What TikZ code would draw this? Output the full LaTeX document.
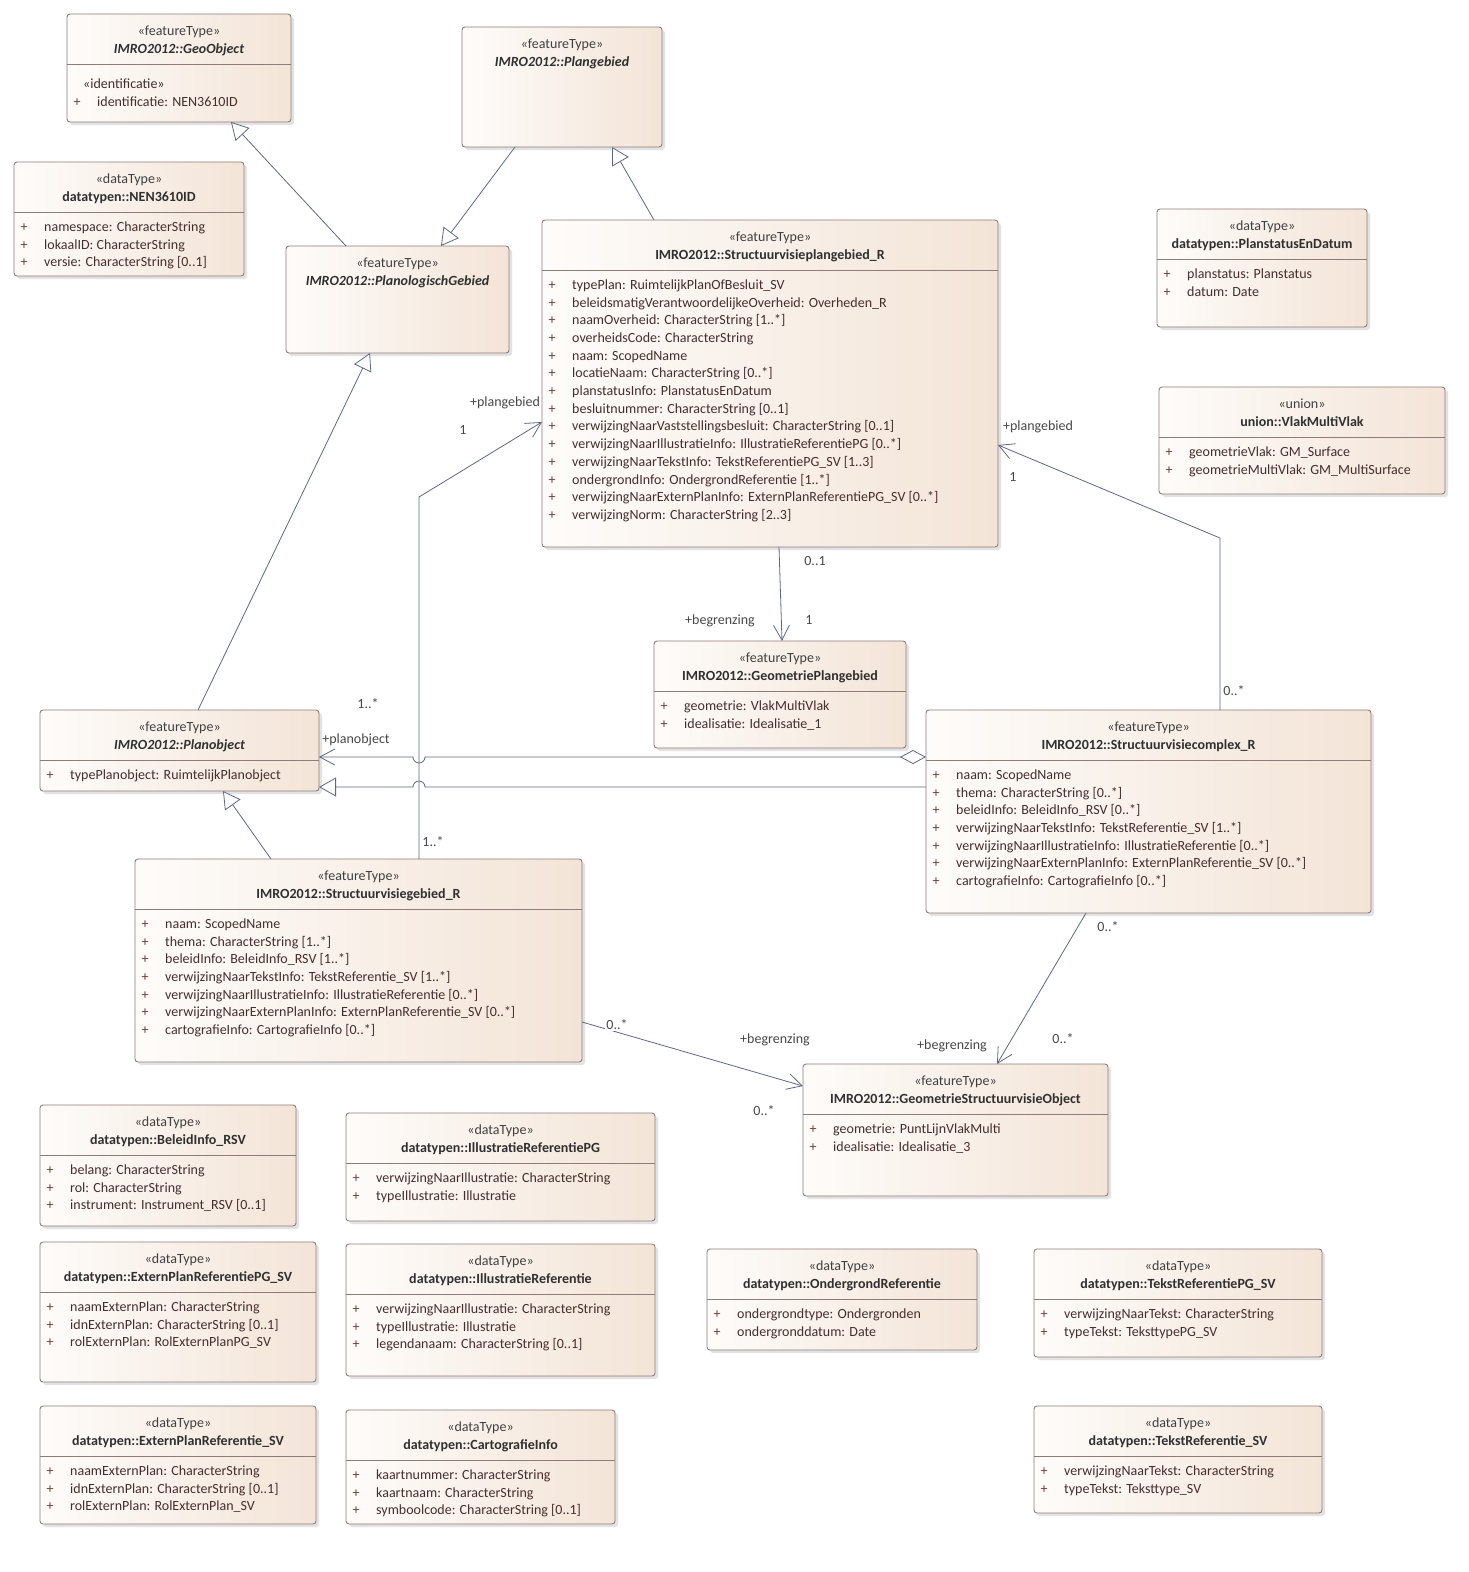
\documentclass[tikz,border=0pt]{standalone}
\usepackage{fontspec}
\setmainfont{Carlito}
\usetikzlibrary{arrows.meta,calc,shadows}
\definecolor{boxL}{HTML}{FEFCFA}
\definecolor{boxR}{HTML}{F3E4D7}
\definecolor{boxborder}{HTML}{8F7C78}
\definecolor{linecol}{HTML}{5D6888}
\definecolor{stcol}{HTML}{404040}
\definecolor{nmcol}{HTML}{303030}
\definecolor{atcol}{HTML}{452E2E}
\definecolor{pluscol}{HTML}{6E3A3A}
\definecolor{lblcol}{HTML}{484848}
\newcommand{\dfont}{\fontsize{14}{16}\selectfont}
\tikzset{
 umlbox/.style={draw=boxborder, line width=0.9pt, rounded corners=3pt, left color=boxL, right color=boxR,
   inner sep=0pt, outer sep=0pt,
   drop shadow={shadow xshift=3pt, shadow yshift=-3pt, opacity=0.25, fill=black!45}},
 sepl/.style={draw=boxborder, line width=0.9pt},
 stereo/.style={font=\dfont, text=stcol, inner sep=0pt, anchor=mid},
 ttl/.style={font=\dfont\bfseries, text=nmcol, inner sep=0pt, anchor=mid},
 ttli/.style={font=\dfont\bfseries\itshape, text=nmcol, inner sep=0pt, anchor=mid},
 plusn/.style={font=\dfont, text=pluscol, inner sep=0pt, anchor=mid},
 attrn/.style={font=\dfont, text=atcol, inner sep=0pt, anchor=mid west},
 lbl/.style={font=\dfont, text=lblcol, inner sep=1pt, anchor=mid},
 conn/.style={draw=linecol, line width=0.8pt},
 gen/.style={conn, -{Triangle[length=17pt,width=19pt,fill=white]}},
 assoc/.style={conn, -{Straight Barb[length=15pt,width=16pt]}},
 agg/.style={conn, {Diamond[length=26pt,width=14pt,fill=white]}-{Straight Barb[length=15pt,width=16pt]}},
}
\newcommand{\umlbox}[5]{\node[umlbox, minimum width={(#4)-(#2)}, minimum height={(#5)-(#3)}] (#1) at ({((#2)+(#4))/2},{((#3)+(#5))/2}) {};}
\newcommand{\umlhead}[4]{%
 \node[stereo] (#1-st) at ($(#1.north)+(0,19)$) {«#2»};
 \node[#4] (#1-nm) at ($(#1.north)+(0,37)$) {#3};}
\newcommand{\umlsep}[1]{\draw[sepl] ($(#1.north west)+(0,50)$) -- ($(#1.north east)+(0,50)$);}
\newcommand{\umlattrs}[2]{\foreach \a [count=\i from 0] in {#2}{%
 \node[plusn] (#1-p\i) at ($(#1.north west)+(10,{67+17.7*\i})$) {+};
 \node[attrn] (#1-a\i) at ($(#1.north west)+(30,{67+17.7*\i})$) {\a};}}
\begin{document}
\begin{tikzpicture}[x=1pt,y=-1pt]
\useasboundingbox[fill=white] (0,0) rectangle (1468,1572);

% ---------- classes ----------
\umlbox{geo}{67}{14}{291}{122}
\umlhead{geo}{featureType}{IMRO2012::GeoObject}{ttli}
\umlsep{geo}
\node[attrn] (geo-s1) at ($(geo.north west)+(16,72)$) {«identificatie»};
\node[plusn] (geo-p0) at ($(geo.north west)+(10,90)$) {+};
\node[attrn] (geo-a0) at ($(geo.north west)+(30,90)$) {identificatie: NEN3610ID};

\umlbox{nen}{14}{162}{244}{276}
\umlhead{nen}{dataType}{datatypen::NEN3610ID}{ttl}
\umlsep{nen}
\umlattrs{nen}{namespace: CharacterString, lokaalID: CharacterString, versie: CharacterString [0..1]}

\umlbox{pgb}{462}{27}{662}{147}
\umlhead{pgb}{featureType}{IMRO2012::Plangebied}{ttli}

\umlbox{plg}{286}{246}{509}{353}
\umlhead{plg}{featureType}{IMRO2012::PlanologischGebied}{ttli}

\umlbox{svp}{542}{220}{998}{547}
\umlhead{svp}{featureType}{IMRO2012::Structuurvisieplangebied\_R}{ttl}
\umlsep{svp}
\umlattrs{svp}{typePlan: RuimtelijkPlanOfBesluit\_SV,
 beleidsmatigVerantwoordelijkeOverheid: Overheden\_R,
 naamOverheid: CharacterString [1..*],
 overheidsCode: CharacterString,
 naam: ScopedName,
 locatieNaam: CharacterString [0..*],
 planstatusInfo: PlanstatusEnDatum,
 besluitnummer: CharacterString [0..1],
 verwijzingNaarVaststellingsbesluit: CharacterString [0..1],
 verwijzingNaarIllustratieInfo: IllustratieReferentiePG [0..*],
 verwijzingNaarTekstInfo: TekstReferentiePG\_SV [1..3],
 ondergrondInfo: OndergrondReferentie [1..*],
 verwijzingNaarExternPlanInfo: ExternPlanReferentiePG\_SV [0..*],
 verwijzingNorm: CharacterString [2..3]}

\umlbox{psd}{1157}{209}{1367}{327}
\umlhead{psd}{dataType}{datatypen::PlanstatusEnDatum}{ttl}
\umlsep{psd}
\umlattrs{psd}{planstatus: Planstatus, datum: Date}

\umlbox{vmv}{1159}{387}{1445}{494}
\umlhead{vmv}{union}{union::VlakMultiVlak}{ttl}
\umlsep{vmv}
\umlattrs{vmv}{geometrieVlak: GM\_Surface, geometrieMultiVlak: GM\_MultiSurface}

\umlbox{gpg}{654}{641}{906}{748}
\umlhead{gpg}{featureType}{IMRO2012::GeometriePlangebied}{ttl}
\umlsep{gpg}
\umlattrs{gpg}{geometrie: VlakMultiVlak, idealisatie: Idealisatie\_1}

\umlbox{pob}{40}{710}{319}{791}
\umlhead{pob}{featureType}{IMRO2012::Planobject}{ttli}
\umlsep{pob}
\umlattrs{pob}{typePlanobject: RuimtelijkPlanobject}

\umlbox{cpx}{926}{710}{1371}{913}
\umlhead{cpx}{featureType}{IMRO2012::Structuurvisiecomplex\_R}{ttl}
\umlsep{cpx}
\umlattrs{cpx}{naam: ScopedName,
 thema: CharacterString [0..*],
 beleidInfo: BeleidInfo\_RSV [0..*],
 verwijzingNaarTekstInfo: TekstReferentie\_SV [1..*],
 verwijzingNaarIllustratieInfo: IllustratieReferentie [0..*],
 verwijzingNaarExternPlanInfo: ExternPlanReferentie\_SV [0..*],
 cartografieInfo: CartografieInfo [0..*]}

\umlbox{svg}{135}{859}{582}{1062}
\umlhead{svg}{featureType}{IMRO2012::Structuurvisiegebied\_R}{ttl}
\umlsep{svg}
\umlattrs{svg}{naam: ScopedName,
 thema: CharacterString [1..*],
 beleidInfo: BeleidInfo\_RSV [1..*],
 verwijzingNaarTekstInfo: TekstReferentie\_SV [1..*],
 verwijzingNaarIllustratieInfo: IllustratieReferentie [0..*],
 verwijzingNaarExternPlanInfo: ExternPlanReferentie\_SV [0..*],
 cartografieInfo: CartografieInfo [0..*]}

\umlbox{gso}{803}{1064}{1108}{1196}
\umlhead{gso}{featureType}{IMRO2012::GeometrieStructuurvisieObject}{ttl}
\umlsep{gso}
\umlattrs{gso}{geometrie: PuntLijnVlakMulti, idealisatie: Idealisatie\_3}

\umlbox{bri}{40}{1105}{296}{1226}
\umlhead{bri}{dataType}{datatypen::BeleidInfo\_RSV}{ttl}
\umlsep{bri}
\umlattrs{bri}{belang: CharacterString, rol: CharacterString, instrument: Instrument\_RSV [0..1]}

\umlbox{irp}{346}{1113}{655}{1221}
\umlhead{irp}{dataType}{datatypen::IllustratieReferentiePG}{ttl}
\umlsep{irp}
\umlattrs{irp}{verwijzingNaarIllustratie: CharacterString, typeIllustratie: Illustratie}

\umlbox{eps}{40}{1242}{316}{1382}
\umlhead{eps}{dataType}{datatypen::ExternPlanReferentiePG\_SV}{ttl}
\umlsep{eps}
\umlattrs{eps}{naamExternPlan: CharacterString, idnExternPlan: CharacterString [0..1], rolExternPlan: RolExternPlanPG\_SV}

\umlbox{irf}{346}{1244}{655}{1376}
\umlhead{irf}{dataType}{datatypen::IllustratieReferentie}{ttl}
\umlsep{irf}
\umlattrs{irf}{verwijzingNaarIllustratie: CharacterString, typeIllustratie: Illustratie, legendanaam: CharacterString [0..1]}

\umlbox{ogr}{707}{1249}{977}{1350}
\umlhead{ogr}{dataType}{datatypen::OndergrondReferentie}{ttl}
\umlsep{ogr}
\umlattrs{ogr}{ondergrondtype: Ondergronden, ondergronddatum: Date}

\umlbox{trp}{1034}{1249}{1322}{1357}
\umlhead{trp}{dataType}{datatypen::TekstReferentiePG\_SV}{ttl}
\umlsep{trp}
\umlattrs{trp}{verwijzingNaarTekst: CharacterString, typeTekst: TeksttypePG\_SV}

\umlbox{ers}{40}{1406}{316}{1524}
\umlhead{ers}{dataType}{datatypen::ExternPlanReferentie\_SV}{ttl}
\umlsep{ers}
\umlattrs{ers}{naamExternPlan: CharacterString, idnExternPlan: CharacterString [0..1], rolExternPlan: RolExternPlan\_SV}

\umlbox{cgi}{346}{1410}{615}{1524}
\umlhead{cgi}{dataType}{datatypen::CartografieInfo}{ttl}
\umlsep{cgi}
\umlattrs{cgi}{kaartnummer: CharacterString, kaartnaam: CharacterString, symboolcode: CharacterString [0..1]}

\umlbox{trs}{1034}{1406}{1322}{1513}
\umlhead{trs}{dataType}{datatypen::TekstReferentie\_SV}{ttl}
\umlsep{trs}
\umlattrs{trs}{verwijzingNaarTekst: CharacterString, typeTekst: Teksttype\_SV}

% ---------- generalizations ----------
\draw[gen] ($(plg.north west)+(60,0)$) -- ($(geo.south west)+(164,0)$);
\draw[gen] ($(pgb.south west)+(53,0)$) -- ($(plg.north west)+(155,0)$);
\draw[gen] ($(svp.north west)+(112,0)$) -- ($(pgb.south west)+(150,0)$);
\draw[gen] ($(pob.north west)+(158,0)$) -- ($(plg.south west)+(84,0)$);
\draw[gen] ($(svg.north west)+(136,0)$) -- ($(pob.south west)+(183,0)$);

% vertical connector x
\coordinate (vx) at ($(svg.north west)+(284,0)$);
\coordinate (ag1) at ($(cpx.north west)+(0,47)$);
\coordinate (ge1) at ($(cpx.north west)+(0,77)$);

\draw[gen] (ge1) -- ($(vx |- ge1)+(6,0)$) arc[start angle=0,end angle=-180,radius=6] -- ($(pob.north east)+(0,77)$);
\draw[agg] (ag1) -- ($(vx |- ag1)+(6,0)$) arc[start angle=0,end angle=180,radius=6] -- ($(pob.north east)+(0,47)$);

% ---------- associations ----------
\draw[assoc] (vx) -- ++(0,-362) -- ($(svp.north west)+(0,202)$);
\draw[assoc] ($(cpx.north west)+(294,0)$) -- ++(0,-172) -- ($(svp.north east)+(0,225)$);
\draw[assoc] ($(svp.south west)+(237,0)$) -- ($(gpg.north west)+(128,0)$);
\draw[assoc] ($(svg.north east)+(0,163)$) -- ($(gso.north west)+(0,22)$);
\draw[assoc] ($(cpx.south west)+(160,0)$) -- ($(gso.north west)+(194,0)$);

% ---------- labels ----------
\node[lbl] (l1) at (505,404) {+plangebied};
\node[lbl] (l2) at (463,432) {1};
\node[lbl] (l3) at (433,844) {1..*};
\node[lbl] (l4) at (1038,428) {+plangebied};
\node[lbl] (l5) at (1013,479) {1};
\node[lbl] (l6) at (1234,693) {0..*};
\node[lbl] (l7) at (815,563) {0..1};
\node[lbl] (l8) at (720,622) {+begrenzing};
\node[lbl] (l9) at (809,622) {1};
\node[lbl] (l10) at (356,741) {+planobject};
\node[lbl] (l11) at (368,706) {1..*};
\node[lbl, fill=white] (l12) at (617,1027) {0..*};
\node[lbl] (l13) at (775,1041) {+begrenzing};
\node[lbl] (l14) at (764,1113) {0..*};
\node[lbl] (l15) at (1108,929) {0..*};
\node[lbl] (l16) at (952,1047) {+begrenzing};
\node[lbl] (l17) at (1063,1041) {0..*};
\end{tikzpicture}
\end{document}
